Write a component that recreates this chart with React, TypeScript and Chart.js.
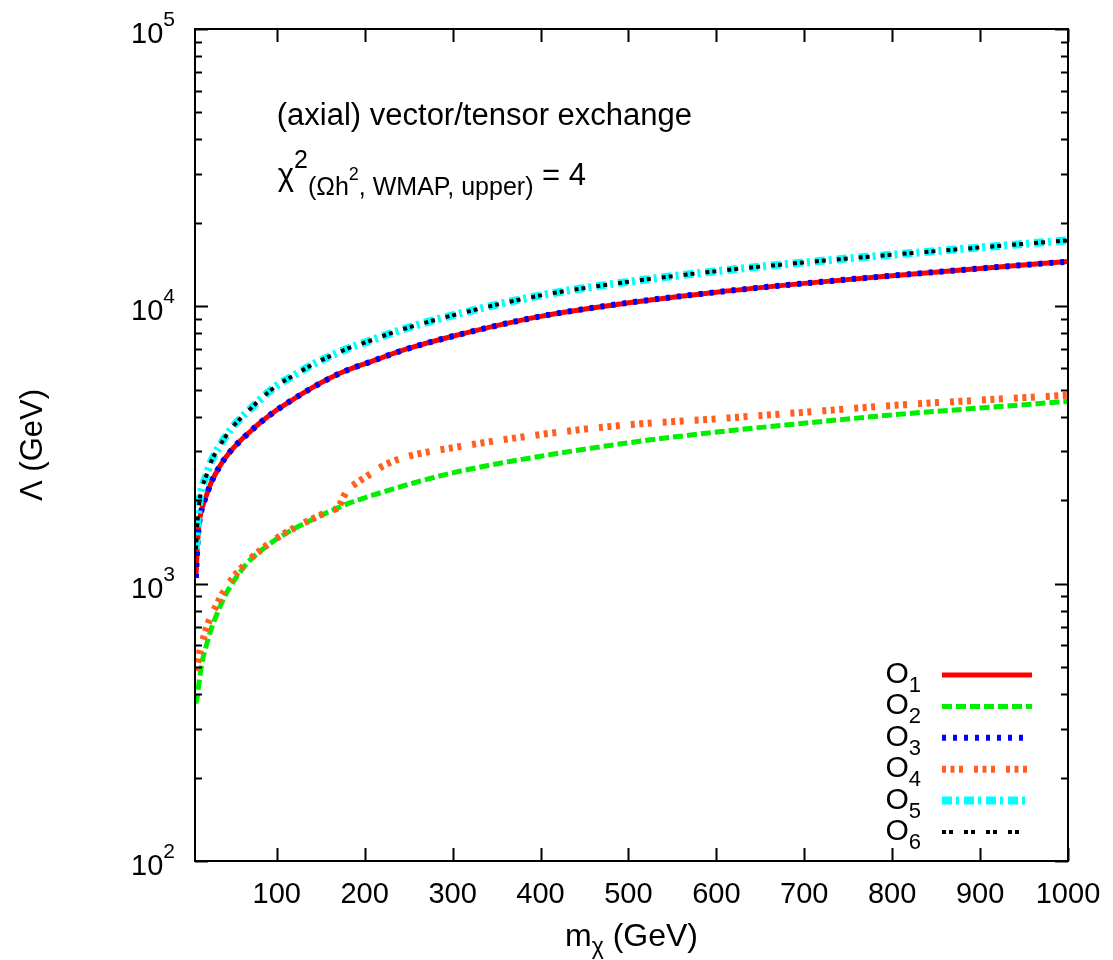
import React, { useEffect, useRef } from "react";
import { Chart, registerables } from "chart.js";

Chart.register(...registerables);

// ---------- data ----------
const massGeV = [8, 10, 12, 15, 20, 25, 30, 40, 50, 60, 70, 80, 100, 120, 140, 160, 170, 180, 190, 200, 225, 250, 300, 400, 500, 600, 700, 800, 900, 1000];

const lambdaO1 = [1050, 1420, 1680, 1870, 2080, 2300, 2480, 2800, 3070, 3310, 3540, 3780, 4230, 4650, 5080, 5500, 5700, 5880, 6050, 6200, 6630, 7050, 7800, 9200, 10300, 11250, 12100, 12900, 13700, 14500];
const lambdaO2 = [370, 400, 450, 520, 600, 680, 750, 890, 1010, 1120, 1220, 1300, 1450, 1580, 1700, 1820, 1880, 1940, 1990, 2040, 2160, 2280, 2510, 2880, 3220, 3520, 3790, 4060, 4300, 4540];
const lambdaO3 = [1050, 1420, 1680, 1870, 2080, 2300, 2480, 2800, 3070, 3310, 3540, 3780, 4230, 4650, 5080, 5500, 5700, 5880, 6050, 6200, 6630, 7050, 7800, 9200, 10300, 11250, 12100, 12900, 13700, 14500];
const lambdaO4 = [485, 520, 560, 610, 690, 760, 820, 940, 1050, 1140, 1230, 1310, 1460, 1590, 1710, 1830, 1890, 2170, 2300, 2410, 2700, 2880, 3090, 3450, 3740, 3930, 4150, 4390, 4590, 4780];
const lambdaO5 = [1330, 1700, 1980, 2220, 2460, 2740, 2950, 3330, 3680, 3980, 4270, 4580, 5180, 5650, 6150, 6600, 6820, 7030, 7220, 7400, 7900, 8390, 9280, 10950, 12260, 13390, 14400, 15350, 16300, 17300];
const lambdaO6 = [1330, 1700, 1980, 2220, 2460, 2740, 2950, 3330, 3680, 3980, 4270, 4580, 5180, 5650, 6150, 6600, 6820, 7030, 7220, 7400, 7900, 8390, 9280, 10950, 12260, 13390, 14400, 15350, 16300, 17300];

const seriesSubscripts = ["1", "2", "3", "4", "5", "6"];
const xTickValues = [100, 200, 300, 400, 500, 600, 700, 800, 900, 1000];
const yDecadeValues = [100, 1000, 10000, 100000];
const yDecadeExponents = ["2", "3", "4", "5"];
const yMinorMultipliers = [2, 3, 4, 5, 6, 7, 8, 9];

const titleLine1 = "(axial) vector/tensor exchange";
const xTitleMain = "m";
const xTitleSub = "χ";
const xTitleRest = " (GeV)";
const yTitle = "Λ (GeV)";

// ---------- styles ----------
const FONT = "'Liberation Sans', Arial, Helvetica, sans-serif";
const seriesStyles = [
  { color: "#ff0000", width: 5, dash: [] as number[] },
  { color: "#00ee00", width: 5, dash: [10, 4] },
  { color: "#0000ff", width: 6, dash: [4, 7] },
  { color: "#ff5f1f", width: 7, dash: [4, 4.5, 4, 4.5, 4, 11] },
  { color: "#00ffff", width: 8, dash: [10, 4, 3, 5] },
  { color: "#000000", width: 4, dash: [4, 3, 4, 11] },
];
const legendLineEnds = [1032, 1032, 1026, 1030, 1028, 1024];
const seriesValues = [lambdaO1, lambdaO2, lambdaO3, lambdaO4, lambdaO5, lambdaO6];

type Seg = { t: string; size: number; dy: number };

function drawRich(ctx: CanvasRenderingContext2D, x: number, y: number, segs: Seg[], align: "left" | "center" | "right") {
  let total = 0;
  const widths: number[] = [];
  segs.forEach((s) => {
    ctx.font = `${s.size}px ${FONT}`;
    const w = ctx.measureText(s.t).width;
    widths.push(w);
    total += w;
  });
  let cx = align === "left" ? x : align === "center" ? x - total / 2 : x - total;
  ctx.textAlign = "left";
  ctx.textBaseline = "alphabetic";
  segs.forEach((s, i) => {
    ctx.font = `${s.size}px ${FONT}`;
    ctx.fillText(s.t, cx, y + s.dy);
    cx += widths[i];
  });
}

const framePlugin = {
  id: "gnuplotFrame",
  afterDatasetsDraw(chart: any) {
    const { ctx, chartArea: a, scales } = chart;
    const xs = scales.x;
    const ys = scales.y;
    ctx.save();
    ctx.strokeStyle = "#000";
    ctx.lineWidth = 2;
    ctx.beginPath();
    xTickValues.forEach((v) => {
      const px = Math.round(xs.getPixelForValue(v)) + 0.5;
      ctx.moveTo(px, a.bottom);
      ctx.lineTo(px, a.bottom - 13);
      ctx.moveTo(px, a.top);
      ctx.lineTo(px, a.top + 13);
    });
    yDecadeValues.forEach((d, i) => {
      const py = Math.round(ys.getPixelForValue(d)) + 0.5;
      ctx.moveTo(a.left, py);
      ctx.lineTo(a.left + 13, py);
      ctx.moveTo(a.right, py);
      ctx.lineTo(a.right - 13, py);
      if (i < yDecadeValues.length - 1) {
        yMinorMultipliers.forEach((m) => {
          const pm = Math.round(ys.getPixelForValue(d * m)) + 0.5;
          ctx.moveTo(a.left, pm);
          ctx.lineTo(a.left + 7, pm);
          ctx.moveTo(a.right, pm);
          ctx.lineTo(a.right - 7, pm);
        });
      }
    });
    ctx.stroke();
    ctx.strokeRect(a.left, a.top, a.right - a.left, a.bottom - a.top);
    ctx.restore();
  },
  afterDraw(chart: any) {
    const { ctx, chartArea: a, scales } = chart;
    const xs = scales.x;
    const ys = scales.y;
    ctx.save();
    ctx.fillStyle = "#000";

    // x tick labels
    xTickValues.forEach((v) => {
      drawRich(ctx, xs.getPixelForValue(v), a.bottom + 42, [{ t: String(v), size: 29, dy: 0 }], "center");
    });
    // y tick labels
    yDecadeValues.forEach((d, i) => {
      const py = ys.getPixelForValue(d);
      drawRich(ctx, a.left - 20, py + 14, [
        { t: "10", size: 29, dy: 0 },
        { t: yDecadeExponents[i], size: 21, dy: -17 },
      ], "right");
    });

    // axis titles
    drawRich(ctx, (a.left + a.right) / 2, a.bottom + 85, [
      { t: xTitleMain, size: 32, dy: 0 },
      { t: xTitleSub, size: 23, dy: 8 },
      { t: xTitleRest, size: 32, dy: 0 },
    ], "center");
    ctx.save();
    ctx.translate(42, (a.top + a.bottom) / 2);
    ctx.rotate(-Math.PI / 2);
    drawRich(ctx, 0, 0, [{ t: yTitle, size: 31, dy: 0 }], "center");
    ctx.restore();

    // annotation
    const ax = xs.getPixelForValue(100);
    drawRich(ctx, ax, a.top + 96, [{ t: titleLine1, size: 31, dy: 0 }], "left");
    drawRich(ctx, ax + 1, a.top + 156, [
      { t: "χ", size: 31, dy: 0 },
      { t: "2", size: 25, dy: -17 },
      { t: "(Ωh", size: 25, dy: 10 },
      { t: "2", size: 18, dy: -5 },
      { t: ", WMAP, upper)", size: 25, dy: 10 },
      { t: " = 4", size: 31, dy: 0 },
    ], "left");

    // legend
    seriesStyles.forEach((s, i) => {
      const cy = 675 + i * 31.4;
      drawRich(ctx, 921, cy + 8, [
        { t: "O", size: 30, dy: 0 },
        { t: seriesSubscripts[i], size: 22, dy: 9 },
      ], "right");
      ctx.save();
      ctx.strokeStyle = s.color;
      ctx.lineWidth = s.width;
      ctx.lineCap = "butt";
      ctx.setLineDash(s.dash);
      ctx.beginPath();
      ctx.moveTo(942, cy);
      ctx.lineTo(legendLineEnds[i], cy);
      ctx.stroke();
      ctx.restore();
    });
    ctx.restore();
  },
};

export default function App() {
  const canvasRef = useRef<HTMLCanvasElement | null>(null);

  useEffect(() => {
    const canvas = canvasRef.current;
    if (!canvas) return;
    const chart = new Chart(canvas, {
      type: "line",
      data: {
        datasets: seriesValues.map((vals, i) => ({
          label: "O" + seriesSubscripts[i],
          data: massGeV.map((m, j) => ({ x: m, y: vals[j] })),
          borderColor: seriesStyles[i].color,
          borderWidth: seriesStyles[i].width,
          borderDash: seriesStyles[i].dash,
          borderCapStyle: "butt" as const,
          borderJoinStyle: "round" as const,
          pointRadius: 0,
          fill: false,
          cubicInterpolationMode: "monotone" as const,
          order: seriesValues.length - i,
        })),
      },
      options: {
        animation: false,
        responsive: false,
        devicePixelRatio: 1,
        layout: { padding: { left: 195, right: 45, top: 29, bottom: 99 } },
        scales: {
          x: { type: "linear", display: false, min: 7, max: 1000 },
          y: { type: "logarithmic", display: false, min: 100, max: 100000 },
        },
        plugins: {
          legend: { display: false },
          tooltip: { enabled: false },
        },
      },
      plugins: [framePlugin],
    });
    return () => chart.destroy();
  }, []);

  return (
    <div style={{ position: "absolute", left: 0, top: 0, width: 1113, height: 960, background: "#fff" }}>
      <canvas ref={canvasRef} width={1113} height={960} />
    </div>
  );
}
